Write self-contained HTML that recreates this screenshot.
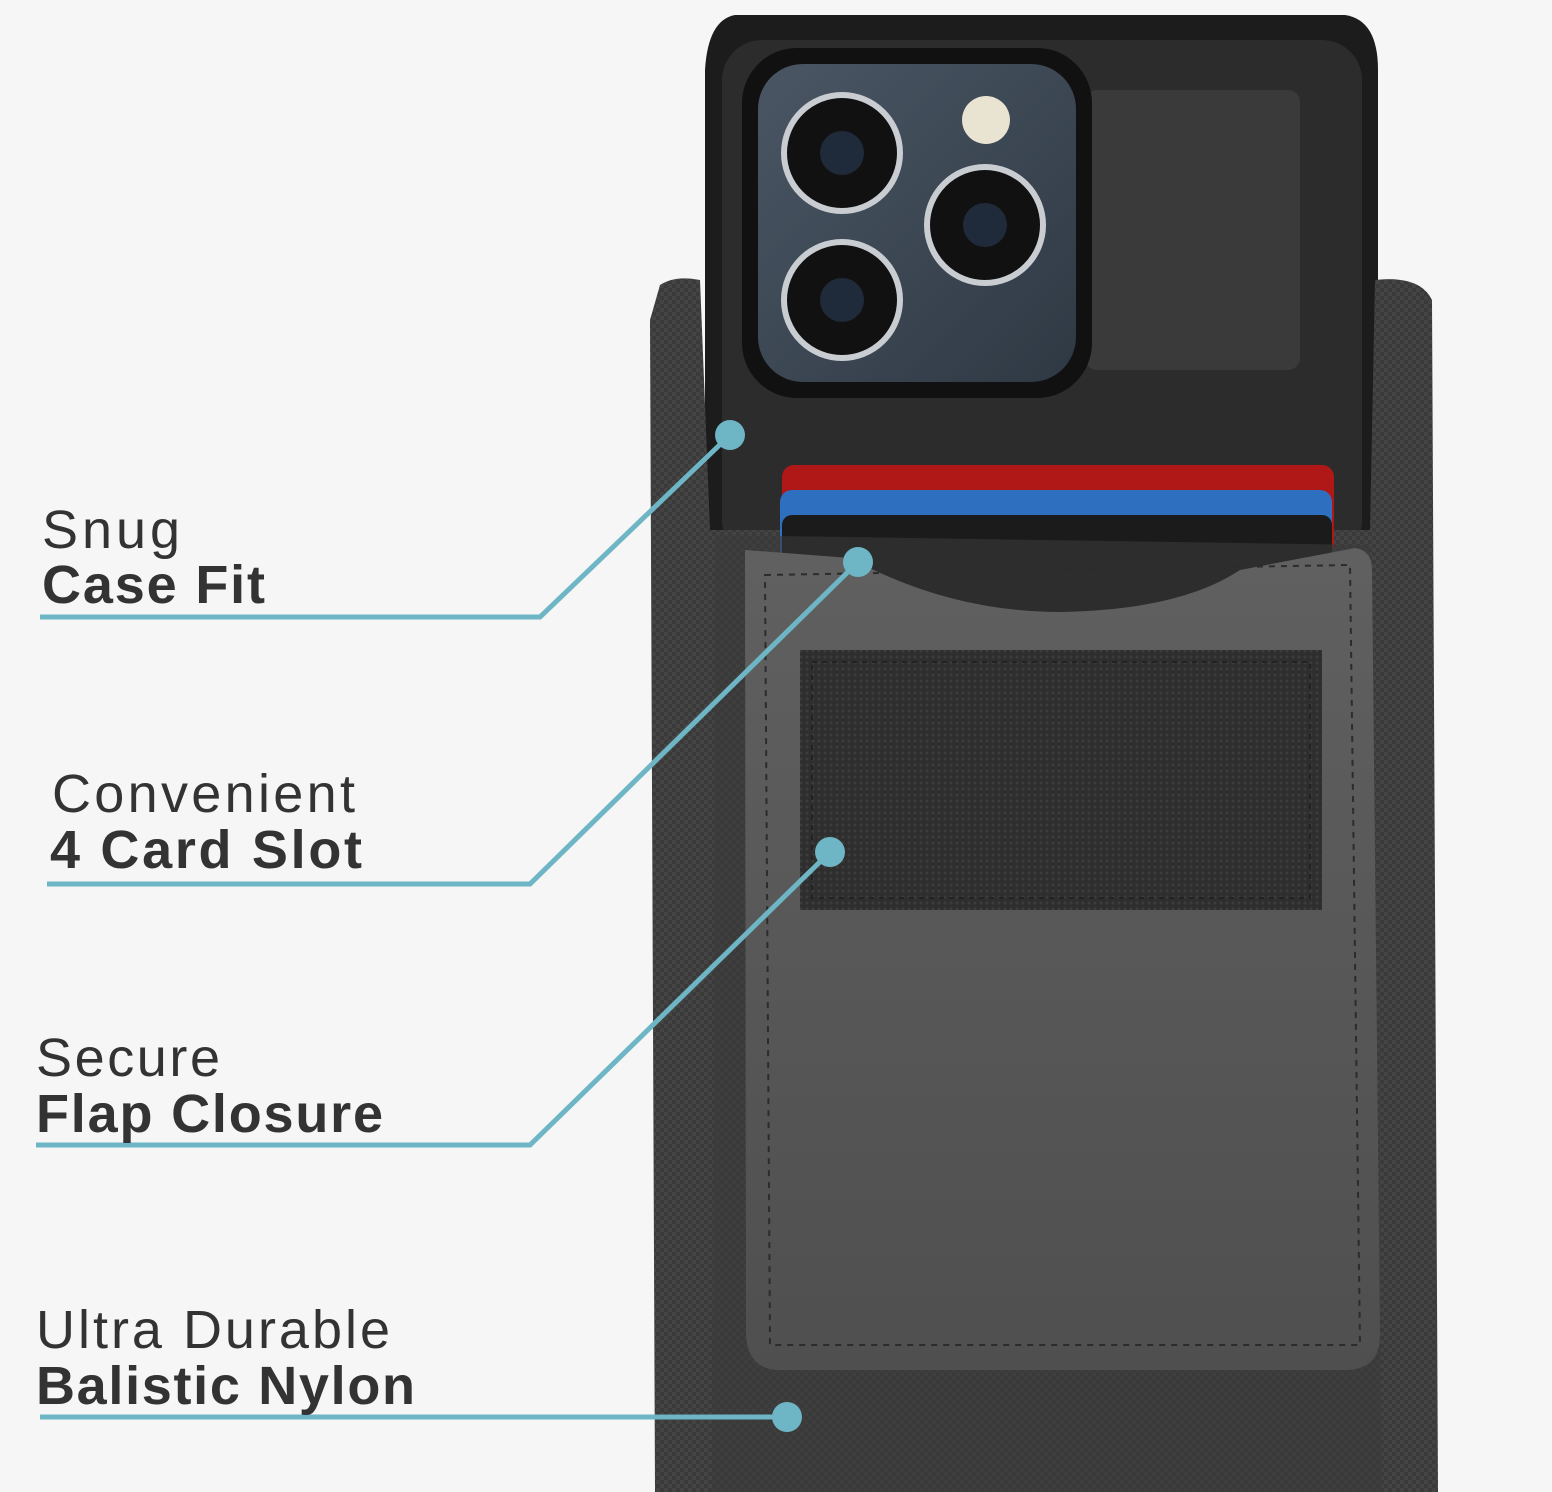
<!DOCTYPE html>
<html><head><style>
html,body{margin:0;padding:0;background:#f6f6f6;}
svg{display:block;}
text{font-family:"Liberation Sans",sans-serif;fill:#333;}
</style></head><body>
<svg width="1552" height="1492" viewBox="0 0 1552 1492" xmlns="http://www.w3.org/2000/svg">
<defs>
<pattern id="weave" width="8" height="8" patternUnits="userSpaceOnUse">
<rect width="8" height="8" fill="#3a3a3a"/><rect width="4" height="4" fill="#444"/><rect x="4" y="4" width="4" height="4" fill="#444"/>
</pattern>
<pattern id="velcro" width="6" height="6" patternUnits="userSpaceOnUse">
<rect width="6" height="6" fill="#2e2e2e"/><circle cx="3" cy="3" r="1.5" fill="#3c3c3c"/>
</pattern>
<linearGradient id="flapg" x1="0" y1="0" x2="0" y2="1"><stop offset="0" stop-color="#606060"/><stop offset="1" stop-color="#4f4f4f"/></linearGradient>
<linearGradient id="cam" x1="0" y1="0" x2="1" y2="1"><stop offset="0" stop-color="#4a5664"/><stop offset="1" stop-color="#2f3944"/></linearGradient>
</defs>
<rect width="1552" height="1492" fill="#f6f6f6"/>
<path d="M735 15 L1345 15 Q1378 20 1378 70 L1378 560 L705 560 L705 70 Q708 20 735 15Z" fill="#1c1c1c"/>
<rect x="722" y="40" width="640" height="520" rx="40" fill="#2c2c2c"/>
<rect x="1085" y="90" width="215" height="280" rx="12" fill="#3a3a3a"/>
<rect x="742" y="48" width="350" height="350" rx="55" fill="#111"/>
<rect x="758" y="64" width="318" height="318" rx="45" fill="url(#cam)"/>
<g fill="#111" stroke="#c9cdd2" stroke-width="6">
<circle cx="842" cy="153" r="58"/><circle cx="985" cy="225" r="58"/><circle cx="842" cy="300" r="58"/>
</g>
<g fill="#1f2a3a"><circle cx="842" cy="153" r="22"/><circle cx="985" cy="225" r="22"/><circle cx="842" cy="300" r="22"/></g>
<circle cx="986" cy="120" r="24" fill="#e9e4d2"/>
<path d="M660 285 Q675 275 700 280 L710 530 L1370 530 L1375 280 Q1420 275 1432 300 L1438 1492 L655 1492 L650 320Z" fill="url(#weave)"/>
<rect x="782" y="465" width="552" height="90" rx="12" fill="#b01818"/>
<rect x="780" y="490" width="552" height="90" rx="12" fill="#2f6fc0"/>
<rect x="782" y="515" width="550" height="100" rx="10" fill="#1b1b1b"/>
<path d="M715 535 L1370 545 L1382 1492 L712 1492Z" fill="#3a3a3a" opacity="0.6"/>
<path d="M745 550 L850 558 Q950 612 1060 612 Q1180 610 1240 570 L1355 548 Q1372 550 1372 570 L1380 1335 Q1380 1370 1345 1370 L780 1370 Q748 1370 746 1335Z" fill="url(#flapg)"/>
<path d="M765 575 L1350 565 L1360 1345 L770 1345Z" fill="none" stroke="#2c2c2c" stroke-width="2" stroke-dasharray="6 6"/>
<rect x="800" y="650" width="522" height="260" fill="url(#velcro)"/>
<rect x="812" y="662" width="498" height="236" fill="none" stroke="#222" stroke-width="2" stroke-dasharray="5 5"/>
<g stroke="#6eb5c5" stroke-width="5" fill="none">
<polyline points="40,617 540,617 730,435"/>
<polyline points="47,884 530,884 858,562"/>
<polyline points="36,1145 530,1145 830,852"/>
<polyline points="40,1417 787,1417"/>
</g>
<g fill="#6eb5c5">
<circle cx="730" cy="435" r="15"/><circle cx="858" cy="562" r="15"/><circle cx="830" cy="852" r="15"/><circle cx="787" cy="1417" r="15"/>
</g>
<g font-size="54">
<text x="42" y="548" fill="#444" textLength="138" lengthAdjust="spacing">Snug</text>
<text x="42" y="603" font-weight="bold" textLength="223" lengthAdjust="spacing">Case Fit</text>
<text x="52" y="812" fill="#444" textLength="303" lengthAdjust="spacing">Convenient</text>
<text x="50" y="868" font-weight="bold" textLength="312" lengthAdjust="spacing">4 Card Slot</text>
<text x="36" y="1076" fill="#444" textLength="184" lengthAdjust="spacing">Secure</text>
<text x="36" y="1132" font-weight="bold" textLength="347" lengthAdjust="spacing">Flap Closure</text>
<text x="36" y="1348" fill="#444" textLength="354" lengthAdjust="spacing">Ultra Durable</text>
<text x="36" y="1404" font-weight="bold" textLength="379" lengthAdjust="spacing">Balistic Nylon</text>
</g>
</svg>
</body></html>
